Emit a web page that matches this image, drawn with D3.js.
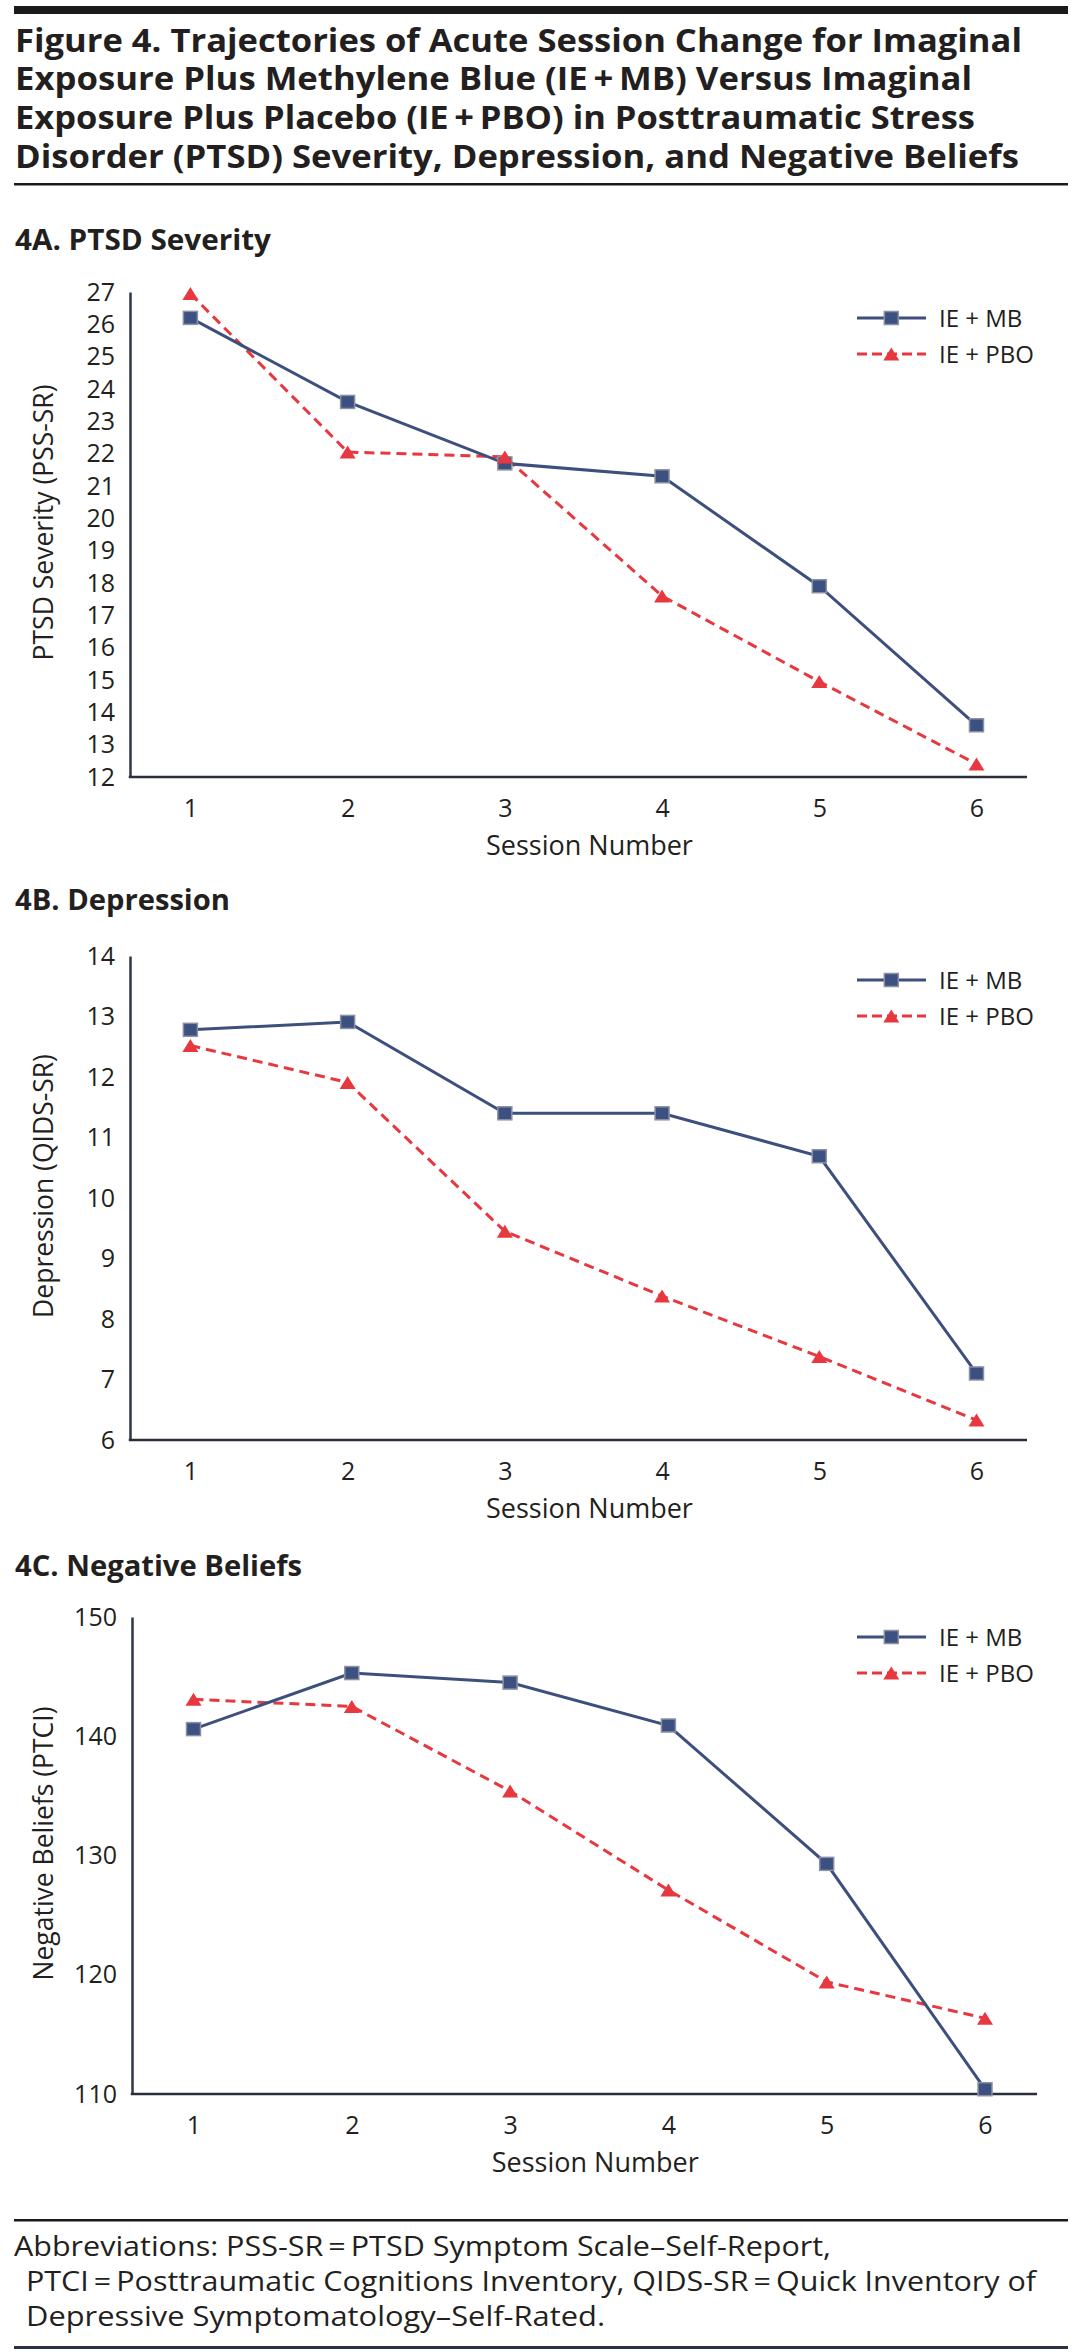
<!DOCTYPE html>
<html>
<head>
<meta charset="utf-8">
<script src="https://cdn.jsdelivr.net/npm/d3@7"></script>
<style>
  body { margin: 0; background: #fff; }
  svg { display: block; font-family: "Open Sans", "Noto Sans", sans-serif; }
</style>
</head>
<body>
<div id="fig"></div>
<script>
// figure size, fixed to the page
var width = 1081,
    height = 2352;

// session numbers on the x axis
var sessions = [1, 2, 3, 4, 5, 6];

// series names for the legends
var seriesNames = ["IE + MB", "IE + PBO"];

// 4A PTSD severity (PSS-SR)
var ptsdMB  = [26.2, 23.6, 21.7, 21.3, 17.9, 13.6];
var ptsdPBO = [26.95, 22.05, 21.9, 17.6, 14.95, 12.4];
var ptsdTicks = [12, 13, 14, 15, 16, 17, 18, 19, 20, 21, 22, 23, 24, 25, 26, 27];

// 4B depression (QIDS-SR)
var depMB  = [12.78, 12.91, 11.4, 11.4, 10.69, 7.1];
var depPBO = [12.52, 11.91, 9.45, 8.38, 7.38, 6.33];
var depTicks = [6, 7, 8, 9, 10, 11, 12, 13, 14];

// 4C negative beliefs (PTCI)
var negMB  = [140.6, 145.3, 144.5, 140.9, 129.3, 110.4];
var negPBO = [143.1, 142.5, 135.4, 127.1, 119.4, 116.35];
var negTicks = [110, 120, 130, 140, 150];

// text blocks
var titleLines = [
  "Figure 4. Trajectories of Acute Session Change for Imaginal",
  "Exposure Plus Methylene Blue (IE\u2009+\u2009MB) Versus Imaginal",
  "Exposure Plus Placebo (IE\u2009+\u2009PBO) in Posttraumatic Stress",
  "Disorder (PTSD) Severity, Depression, and Negative Beliefs"
];
var footLines = [
  "Abbreviations: PSS-SR\u2009=\u2009PTSD Symptom Scale\u2013Self-Report,",
  "PTCI\u2009=\u2009Posttraumatic Cognitions Inventory, QIDS-SR\u2009=\u2009Quick Inventory of",
  "Depressive Symptomatology\u2013Self-Rated."
];

// colours
var navy = "#3d4f7d",
    red = "#e8383f",
    ink = "#231f20";

// panel layout (positions only, data comes from the arrays above)
var panels = [
  { title: "4A. PTSD Severity", titleW: 256, titleY: 250, ylabel: "PTSD Severity (PSS-SR)",
    mb: ptsdMB, pbo: ptsdPBO, ticks: ptsdTicks, domain: [12, 27],
    top: 292, bottom: 777, left: 130, right: 1027, x0: 190.4, x1: 976.5, legendY: 318 },
  { title: "4B. Depression", titleW: 215, titleY: 910, ylabel: "Depression (QIDS-SR)",
    mb: depMB, pbo: depPBO, ticks: depTicks, domain: [6, 14],
    top: 956, bottom: 1440, left: 130, right: 1027, x0: 190.4, x1: 976.5, legendY: 980 },
  { title: "4C. Negative Beliefs", titleW: 287, titleY: 1576, ylabel: "Negative Beliefs (PTCI)",
    mb: negMB, pbo: negPBO, ticks: negTicks, domain: [110, 150],
    top: 1617, bottom: 2094, left: 132, right: 1037, x0: 193.5, x1: 985, legendY: 1637 }
];

var svg = d3.select("#fig")
            .append("svg")
            .attr("width", width)
            .attr("height", height);

// heavy bar on top, thin rules under the title and around the footnote
svg.append("rect").attr("x", 14).attr("y", 6).attr("width", 1054).attr("height", 8).attr("fill", "#1a1a1a");
svg.append("rect").attr("x", 14).attr("y", 183).attr("width", 1054).attr("height", 2.5).attr("fill", "#1a1a1a");
svg.append("rect").attr("x", 14).attr("y", 2219).attr("width", 1054).attr("height", 2.5).attr("fill", "#1a1a1a");
svg.append("rect").attr("x", 14).attr("y", 2346).attr("width", 1054).attr("height", 3).attr("fill", "#2a3142");

// title
var titleW = [1007, 957, 960, 1004];
svg.selectAll("text.title")
   .data(titleLines)
   .enter()
   .append("text")
   .attr("class", "title")
   .attr("x", 15)
   .attr("y", function(d, i) { return 51.5 + i * 38.9; })
   .attr("textLength", function(d, i) { return titleW[i]; })
   .attr("lengthAdjust", "spacingAndGlyphs")
   .style("font-size", "32px")
   .style("font-weight", "700")
   .style("fill", ink)
   .text(function(d) { return d; });

// footnote
var footX = [14, 26, 26],
    footW = [817, 1010, 579];
svg.selectAll("text.foot")
   .data(footLines)
   .enter()
   .append("text")
   .attr("class", "foot")
   .attr("x", function(d, i) { return footX[i]; })
   .attr("y", function(d, i) { return 2256 + i * 35; })
   .attr("textLength", function(d, i) { return footW[i]; })
   .attr("lengthAdjust", "spacingAndGlyphs")
   .style("font-size", "27px")
   .style("fill", ink)
   .text(function(d) { return d; });

// marker shapes
function triPath(w, h) {
  return "M0," + (-h / 2) + "L" + (w / 2) + "," + (h / 2) + "L" + (-w / 2) + "," + (h / 2) + "Z";
}
function drawSquare(g, x, y) {
  g.append("rect")
   .attr("x", x - 7).attr("y", y - 6.5)
   .attr("width", 14).attr("height", 13)
   .attr("fill", "#3c5082")
   .attr("stroke", "#8b91a3")
   .attr("stroke-width", 1.5);
}
function drawTriangle(g, x, y) {
  g.append("path")
   .attr("d", triPath(16, 13))
   .attr("transform", "translate(" + x + "," + y + ")")
   .attr("fill", red);
}

panels.forEach(function(p) {
  var g = svg.append("g");

  var x = d3.scaleLinear().domain([1, 6]).range([p.x0, p.x1]);
  var y = d3.scaleLinear().domain(p.domain).range([p.bottom, p.top]);

  // panel heading
  g.append("text")
   .attr("x", 15)
   .attr("y", p.titleY)
   .attr("textLength", p.titleW)
   .attr("lengthAdjust", "spacingAndGlyphs")
   .style("font-size", "29px")
   .style("font-weight", "700")
   .style("fill", ink)
   .text(p.title);

  // y axis
  var yAxis = g.append("g")
               .attr("transform", "translate(" + p.left + ",0)")
               .call(d3.axisLeft(y).tickValues(p.ticks).tickSize(0).tickPadding(15).tickFormat(d3.format("d")));
  yAxis.select(".domain").attr("stroke", "#2f3647").attr("stroke-width", 2.5);
  yAxis.selectAll("text").style("font-size", "25px").style("fill", ink).style("font-family", "'Open Sans'");

  // x axis, the line runs past the first and last session
  g.append("line")
   .attr("x1", p.left - 1.25).attr("x2", p.right)
   .attr("y1", p.bottom).attr("y2", p.bottom)
   .attr("stroke", "#2a2e38").attr("stroke-width", 2.5);
  var xAxis = g.append("g")
               .attr("transform", "translate(0," + p.bottom + ")")
               .call(d3.axisBottom(x).tickValues(sessions).tickSize(0).tickPadding(22).tickFormat(d3.format("d")));
  xAxis.select(".domain").remove();
  xAxis.selectAll("text").style("font-size", "25px").style("fill", ink).style("font-family", "'Open Sans'");

  // axis titles
  g.append("text")
   .attr("text-anchor", "middle")
   .attr("x", (p.x0 + p.x1) / 2 + 6)
   .attr("y", p.bottom + 78)
   .style("font-size", "27px")
   .style("fill", ink)
   .text("Session Number");

  g.append("text")
   .attr("text-anchor", "middle")
   .attr("transform", "translate(53," + ((p.top + p.bottom) / 2 - 12) + ") rotate(-90)")
   .style("font-size", "26.5px")
   .style("fill", ink)
   .text(p.ylabel);

  var line = d3.line()
               .x(function(d, i) { return x(sessions[i]); })
               .y(function(d) { return y(d); });

  // placebo series, dashed red
  g.append("path")
   .datum(p.pbo)
   .attr("d", line)
   .attr("fill", "none")
   .attr("stroke", red)
   .attr("stroke-width", 3)
   .attr("stroke-dasharray", "10,6");

  // methylene blue series, solid navy
  g.append("path")
   .datum(p.mb)
   .attr("d", line)
   .attr("fill", "none")
   .attr("stroke", navy)
   .attr("stroke-width", 3);

  p.mb.forEach(function(v, i) { drawSquare(g, x(sessions[i]), y(v)); });
  p.pbo.forEach(function(v, i) { drawTriangle(g, x(sessions[i]), y(v)); });

  // legend
  var lg = g.append("g");
  lg.append("line")
    .attr("x1", 857).attr("x2", 926)
    .attr("y1", p.legendY).attr("y2", p.legendY)
    .attr("stroke", navy).attr("stroke-width", 3);
  drawSquare(lg, 891.3, p.legendY);
  lg.append("line")
    .attr("x1", 857).attr("x2", 926)
    .attr("y1", p.legendY + 36).attr("y2", p.legendY + 36)
    .attr("stroke", red).attr("stroke-width", 3)
    .attr("stroke-dasharray", "10,5");
  drawTriangle(lg, 891.3, p.legendY + 36);

  lg.selectAll("text")
    .data(seriesNames)
    .enter()
    .append("text")
    .attr("x", 939)
    .attr("y", function(d, i) { return p.legendY + i * 36; })
    .attr("dy", "0.36em")
    .style("font-size", "24px")
    .style("fill", ink)
    .text(function(d) { return d; });
});
</script>
</body>
</html>
